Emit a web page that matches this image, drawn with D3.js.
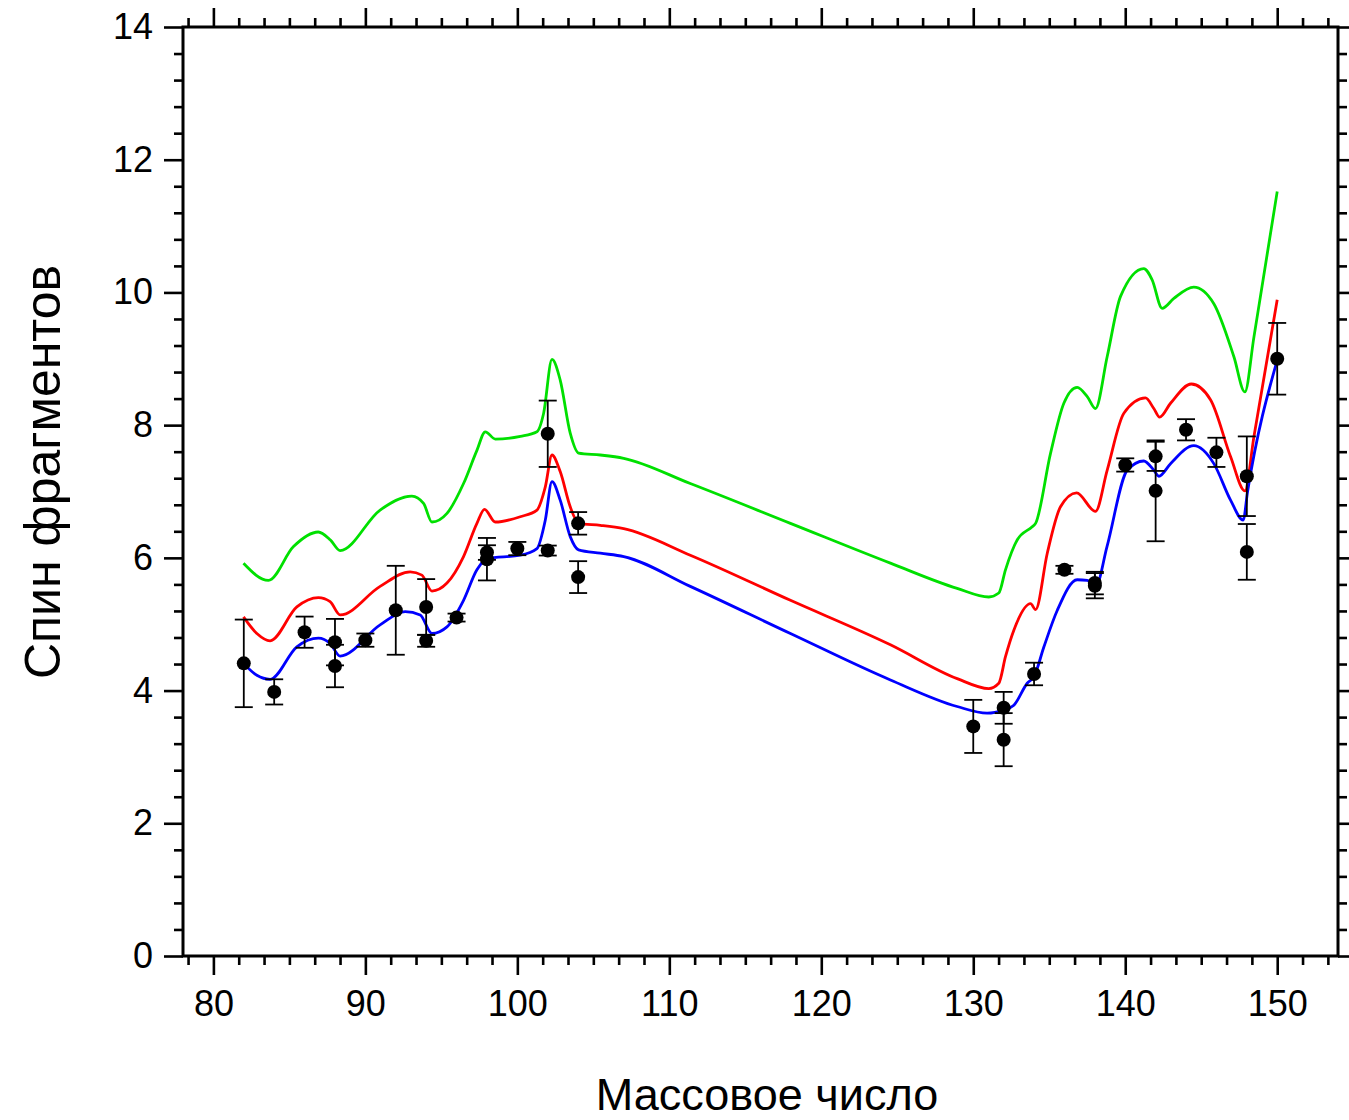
<!DOCTYPE html>
<html>
<head>
<meta charset="utf-8">
<script src="https://cdn.jsdelivr.net/npm/d3@7"></script>
<style>
    body { margin: 0; background: #fff; }
    #SpinPlot text { font-family: "Liberation Sans", Arial, sans-serif; fill: #000; }
</style>
</head>
<body>
<div id="SpinPlot"></div>
<script>

//Experimental points: mass number, spin, error
const pointMass = [82, 84, 86, 88, 88, 90, 92, 94, 94, 96, 98, 98, 100, 102, 102, 104, 104,
    130, 132, 132, 134, 136, 138, 138, 140, 142, 142, 144, 146, 148, 148, 150];
const pointSpin = [4.41, 3.98, 4.88, 4.73, 4.37, 4.76, 5.21, 5.26, 4.75, 5.10, 6.08, 5.98, 6.14, 7.87, 6.11, 6.52, 5.71,
    3.46, 3.74, 3.26, 4.25, 5.82, 5.62, 5.58, 7.40, 7.53, 7.01, 7.93, 7.59, 7.23, 6.09, 9.00];
const pointError = [0.66, 0.19, 0.235, 0.35, 0.32, 0.10, 0.67, 0.42, 0.09, 0.06, 0.11, 0.32, 0.10, 0.50, 0.075, 0.17, 0.24,
    0.40, 0.24, 0.40, 0.17, 0.06, 0.17, 0.19, 0.10, 0.22, 0.76, 0.16, 0.22, 0.60, 0.42, 0.54];

//Green curve
const greenMass = [81.98, 83.62, 85.27, 86.9, 87.7, 88.34, 90.97, 93.06, 93.83, 94.38, 95.37, 96.46, 97.34, 97.89, 98.55,
    100.2, 101.29, 101.73, 102.28, 102.82, 103.48, 104.03, 105.46, 107.0, 111.38, 117.97, 124.55, 128.94, 131.02, 131.68,
    132.12, 132.89, 133.88, 134.1, 135.08, 135.96, 136.84, 137.5, 138.04, 138.81, 139.69, 141.22, 141.77, 142.43, 143.2,
    144.51, 145.83, 147.15, 147.87, 148.47, 150.0];
const greenSpin = [5.92, 5.66, 6.17, 6.39, 6.27, 6.11, 6.72, 6.93, 6.82, 6.54, 6.67, 7.12, 7.62, 7.90, 7.79,
    7.83, 7.90, 8.18, 8.99, 8.68, 7.88, 7.58, 7.55, 7.50, 7.12, 6.52, 5.92, 5.54, 5.41, 5.47,
    5.82, 6.27, 6.47, 6.52, 7.57, 8.33, 8.57, 8.43, 8.25, 9.03, 9.94, 10.36, 10.19, 9.76, 9.91,
    10.08, 9.83, 9.03, 8.50, 9.33, 11.52];

//Red curve
const redMass = [81.98, 82.86, 83.73, 85.49, 86.91, 87.68, 88.34, 90.97, 92.95, 93.72, 94.38, 95.37, 96.46, 97.34, 97.84,
    98.55, 100.19, 101.29, 101.84, 102.28, 102.82, 103.48, 104.03, 105.46, 107.0, 111.38, 117.97, 124.55, 128.94, 131.02,
    131.68, 132.12, 132.67, 133.77, 134.1, 134.87, 135.74, 136.8, 138.04, 138.81, 139.91, 141.33, 141.88, 142.26, 142.98,
    144.35, 145.62, 146.94, 147.87, 148.47, 150.0];
const redSpin = [5.11, 4.86, 4.75, 5.26, 5.40, 5.34, 5.14, 5.57, 5.79, 5.74, 5.50, 5.62, 6.02, 6.52, 6.73,
    6.54, 6.62, 6.72, 7.07, 7.55, 7.30, 6.77, 6.52, 6.49, 6.44, 6.04, 5.36, 4.69, 4.18, 4.03,
    4.11, 4.51, 4.91, 5.31, 5.22, 6.07, 6.77, 6.98, 6.70, 7.32, 8.18, 8.41, 8.25, 8.12, 8.33,
    8.62, 8.38, 7.52, 7.01, 7.83, 9.89];

//Blue curve
const blueMass = [81.98, 82.86, 83.73, 85.49, 86.91, 87.68, 88.34, 90.97, 92.62, 93.61, 94.38, 95.37, 96.46, 97.34, 98.0,
    100.19, 101.29, 101.84, 102.28, 102.82, 103.48, 104.03, 105.46, 107.0, 111.38, 117.97, 124.55, 128.94, 130.91, 132.0,
    132.67, 133.55, 134.0, 134.65, 135.53, 136.84, 137.5, 138.1, 138.8, 140.13, 141.22, 141.88, 142.21, 142.98, 144.51,
    145.83, 146.93, 147.76, 148.05, 150.0];
const blueSpin = [4.41, 4.23, 4.17, 4.66, 4.79, 4.71, 4.52, 4.99, 5.19, 5.14, 4.86, 4.96, 5.36, 5.82, 5.99,
    6.04, 6.14, 6.57, 7.15, 6.87, 6.32, 6.12, 6.07, 6.02, 5.57, 4.86, 4.16, 3.76, 3.66, 3.71,
    3.78, 4.11, 4.21, 4.66, 5.21, 5.67, 5.66, 5.60, 6.17, 7.32, 7.46, 7.32, 7.23, 7.42, 7.69,
    7.42, 6.87, 6.57, 7.00, 8.98];

//Axis ticks
const xMajorTicks = [80, 90, 100, 110, 120, 130, 140, 150];
const yMajorTicks = [0, 2, 4, 6, 8, 10, 12, 14];

class SpinChart {

    constructor ()
    {
        this.width = 1349;
        this.height = 1120;
        this.box = {left: 183, right: 1338, top: 27, bottom: 956};

        this.svg = d3.select("#SpinPlot").append("svg")
            .attr("width", this.width)
            .attr("height", this.height);

        this.x = d3.scaleLinear().domain([78, 154]).range([this.box.left, this.box.right]);
        this.y = d3.scaleLinear().domain([0, 14]).range([this.box.bottom, this.box.top]);

        this.drawAxes();
        this.drawCurves();
        this.drawPoints();
    };

    drawAxes()
    {
        let b = this.box;
        //minor ticks: 5 between x majors, 4 between y majors
        let xMinor = d3.range(-1, 45).map(k => 80 + k * 10 / 6).filter((v, k) => (k - 1) % 6 !== 0 && v > 78 && v < 154);
        let yMinor = d3.range(0, 36).map(k => k * 0.4).filter((v, k) => k % 5 !== 0);

        let addAxis = (axis, tr, showLabels) => {
            let g = this.svg.append("g").attr("transform", tr).call(axis);
            g.select(".domain").remove();
            g.selectAll("line").attr("stroke", "#000").attr("stroke-width", 2.6);
            if (!showLabels) g.selectAll("text").remove();
            return g;
        };

        //Major ticks with labels
        let gx = addAxis(d3.axisBottom(this.x).tickValues(xMajorTicks).tickSize(19).tickPadding(15),
            `translate(0,${b.bottom})`, true);
        gx.selectAll("text").style("font-size", "36px");
        let gy = addAxis(d3.axisLeft(this.y).tickValues(yMajorTicks).tickSize(19).tickPadding(11),
            `translate(${b.left},0)`, true);
        gy.selectAll("text").style("font-size", "36px");
        addAxis(d3.axisTop(this.x).tickValues(xMajorTicks).tickSize(19), `translate(0,${b.top})`, false);
        addAxis(d3.axisRight(this.y).tickValues(yMajorTicks).tickSize(19), `translate(${b.right},0)`, false);

        //Minor ticks
        addAxis(d3.axisBottom(this.x).tickValues(xMinor).tickSize(9), `translate(0,${b.bottom})`, false);
        addAxis(d3.axisTop(this.x).tickValues(xMinor).tickSize(9), `translate(0,${b.top})`, false);
        addAxis(d3.axisLeft(this.y).tickValues(yMinor).tickSize(9), `translate(${b.left},0)`, false);
        addAxis(d3.axisRight(this.y).tickValues(yMinor).tickSize(9), `translate(${b.right},0)`, false);

        //Frame
        this.svg.append("rect")
            .attr("x", b.left).attr("y", b.top)
            .attr("width", b.right - b.left).attr("height", b.bottom - b.top)
            .attr("fill", "none").attr("stroke", "#000").attr("stroke-width", 3);

        //Axis titles
        this.svg.append("text")
            .attr("x", 767).attr("y", 1110)
            .attr("text-anchor", "middle")
            .style("font-size", "45px")
            .text("Массовое число");

        this.svg.append("text")
            .attr("transform", "translate(60,472) rotate(-90)")
            .attr("text-anchor", "middle")
            .style("font-size", "50px")
            .text("Спин фрагментов");
    };

    drawCurves()
    {
        let line = d3.line()
            .x(d => this.x(d[0]))
            .y(d => this.y(d[1]))
            .curve(d3.curveMonotoneX);

        let series = [
            {mass: greenMass, spin: greenSpin, color: "#00e000"},
            {mass: redMass, spin: redSpin, color: "#ff0000"},
            {mass: blueMass, spin: blueSpin, color: "#0000ff"}
        ];

        series.forEach(s => {
            this.svg.append("path")
                .datum(d3.zip(s.mass, s.spin))
                .attr("d", line)
                .attr("fill", "none")
                .attr("stroke", s.color)
                .attr("stroke-width", 2.8);
        });
    };

    drawPoints()
    {
        let data = pointMass.map((m, i) => ({m: m, s: pointSpin[i], e: pointError[i]}));
        let g = this.svg.append("g");

        //Error bars
        let bars = g.selectAll(".err").data(data).enter().append("g").attr("class", "err")
            .attr("stroke", "#000").attr("stroke-width", 1.8);
        bars.append("line")
            .attr("x1", d => this.x(d.m)).attr("x2", d => this.x(d.m))
            .attr("y1", d => this.y(d.s - d.e)).attr("y2", d => this.y(d.s + d.e));
        bars.append("line")
            .attr("x1", d => this.x(d.m) - 9).attr("x2", d => this.x(d.m) + 9)
            .attr("y1", d => this.y(d.s + d.e)).attr("y2", d => this.y(d.s + d.e));
        bars.append("line")
            .attr("x1", d => this.x(d.m) - 9).attr("x2", d => this.x(d.m) + 9)
            .attr("y1", d => this.y(d.s - d.e)).attr("y2", d => this.y(d.s - d.e));

        //Points
        g.selectAll("circle").data(data).enter().append("circle")
            .attr("cx", d => this.x(d.m))
            .attr("cy", d => this.y(d.s))
            .attr("r", 7)
            .attr("fill", "#000");
    };

}

new SpinChart();
</script>
</body>
</html>
